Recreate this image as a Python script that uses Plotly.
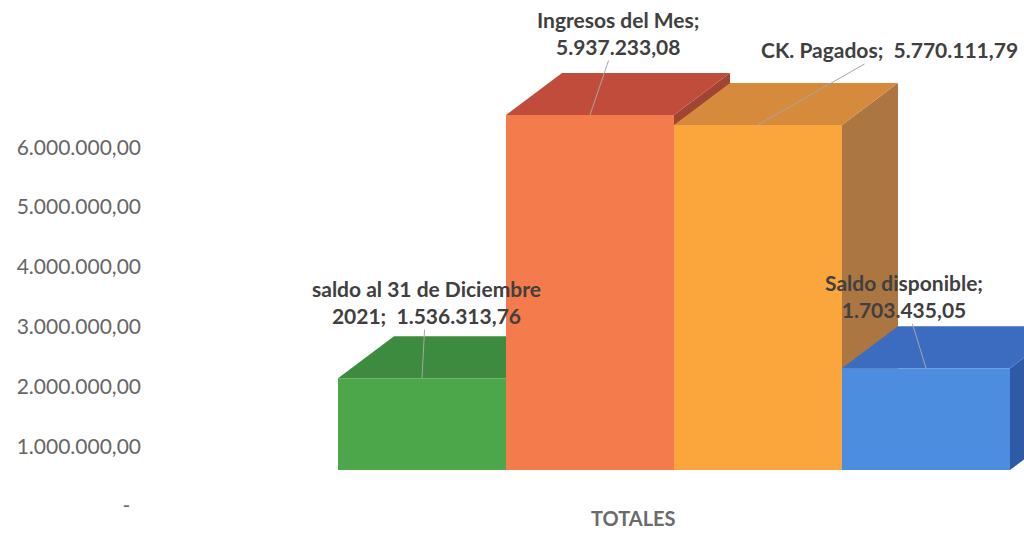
import plotly.graph_objects as go

# ---------------- data ----------------
category = "TOTALES"
series_names = ["saldo al 31 de Diciembre 2021", "Ingresos del Mes", "CK. Pagados", "Saldo disponible"]
values = [1536313.76, 5937233.08, 5770111.79, 1703435.05]
tick_values = [0, 1000000, 2000000, 3000000, 4000000, 5000000, 6000000]
tick_labels = ["-\u00a0\u00a0", "1.000.000,00", "2.000.000,00", "3.000.000,00",
               "4.000.000,00", "5.000.000,00", "6.000.000,00"]

# ---------------- styles ----------------
front_colors = ["#4ca74b", "#f47b4c", "#fba63c", "#4c8de0"]
top_colors = ["#3c8b3e", "#c24c3b", "#d58a3c", "#3b6cc0"]
side_colors = ["#2f7333", "#a04434", "#ab7641", "#2f5aa6"]
# how each label is split into lines (style only)
label_heads = ["saldo al 31 de Diciembre<br>2021", "Ingresos del Mes", "CK. Pagados", "Saldo disponible"]
label_seps = [";  ", ";<br>", ";  ", ";<br>"]
label_offsets = [(4, -76), (28, -82), (131, -75), (-22, -72)]  # pixels

W, H = 1024, 544
ML = 142
BAR_PX = 168.0          # pixels per bar width
FIRST_BAR_PX = 338.0    # left pixel of first bar
ZERO_PX = 506.0         # pixel row of value 0 on the axis
PX_PER_UNIT = 59.8 / 1e6
FRONT_BASE_PX = 470.0   # pixel row of the front-face floor
DEPTH_DX_PX, DEPTH_DY_PX = 56.0, 42.0

x0 = -(FIRST_BAR_PX - ML) / BAR_PX
x1 = x0 + (W - ML) / BAR_PX
y_top = ZERO_PX / PX_PER_UNIT
y_bot = -(H - ZERO_PX) / PX_PER_UNIT
base = (ZERO_PX - FRONT_BASE_PX) / PX_PER_UNIT
ddx = DEPTH_DX_PX / BAR_PX
ddy = DEPTH_DY_PX / PX_PER_UNIT


def fmt(v):
    s = f"{v:,.2f}"
    return s.replace(",", "X").replace(".", ",").replace("X", ".")


fig = go.Figure()
for i, v in enumerate(values):
    top = base + v
    # right side face
    fig.add_trace(go.Scatter(
        x=[i + 1, i + 1 + ddx, i + 1 + ddx, i + 1, i + 1],
        y=[base, base + ddy, top + ddy, top, base],
        mode="lines", fill="toself", fillcolor=side_colors[i],
        line=dict(width=0, color=side_colors[i]), hoverinfo="skip", showlegend=False))
    # top face
    fig.add_trace(go.Scatter(
        x=[i, i + 1, i + 1 + ddx, i + ddx, i],
        y=[top, top, top + ddy, top + ddy, top],
        mode="lines", fill="toself", fillcolor=top_colors[i],
        line=dict(width=0, color=top_colors[i]), hoverinfo="skip", showlegend=False))
    # front face
    fig.add_trace(go.Scatter(
        x=[i, i + 1, i + 1, i, i],
        y=[base, base, top, top, base],
        mode="lines", fill="toself", fillcolor=front_colors[i],
        line=dict(width=0, color=front_colors[i]), name=series_names[i],
        hovertemplate=series_names[i] + ": " + fmt(v) + "<extra></extra>", showlegend=False))

for i, v in enumerate(values):
    ax, ay = label_offsets[i]
    fig.add_annotation(
        x=i + 0.5, y=base + v, xref="x", yref="y",
        text=label_heads[i] + label_seps[i] + fmt(v),
        showarrow=True, arrowhead=0, arrowwidth=1, arrowcolor="#a6a6a6",
        ax=ax, ay=ay, font=dict(family="Lato", size=21, color="#404040", weight="bold"),
        align="center")

fig.add_annotation(
    x=(633 - ML) / (W - ML), y=(H - 532) / H, xref="paper", yref="paper",
    text=category, showarrow=False,
    font=dict(family="Lato", size=20, color="#6b6b6b", weight="bold"))

fig.update_layout(
    width=W, height=H,
    margin=dict(l=ML, r=0, t=0, b=0),
    paper_bgcolor="white", plot_bgcolor="white",
    xaxis=dict(range=[x0, x1], visible=False, fixedrange=True),
    yaxis=dict(range=[y_bot, y_top], tickvals=tick_values, ticktext=tick_labels,
               showgrid=False, zeroline=False, showline=False, ticks="",
               tickfont=dict(family="Lato", size=21, color="#666666"), fixedrange=True),
)

fig.write_html("out.html", config={"displayModeBar": False})

# remove the default page margin so the figure fills the window exactly
with open("out.html", "r", encoding="utf-8") as f:
    html = f.read()
html = html.replace("<body>", '<body style="margin:0;padding:0;overflow:hidden">', 1)
with open("out.html", "w", encoding="utf-8") as f:
    f.write(html)
